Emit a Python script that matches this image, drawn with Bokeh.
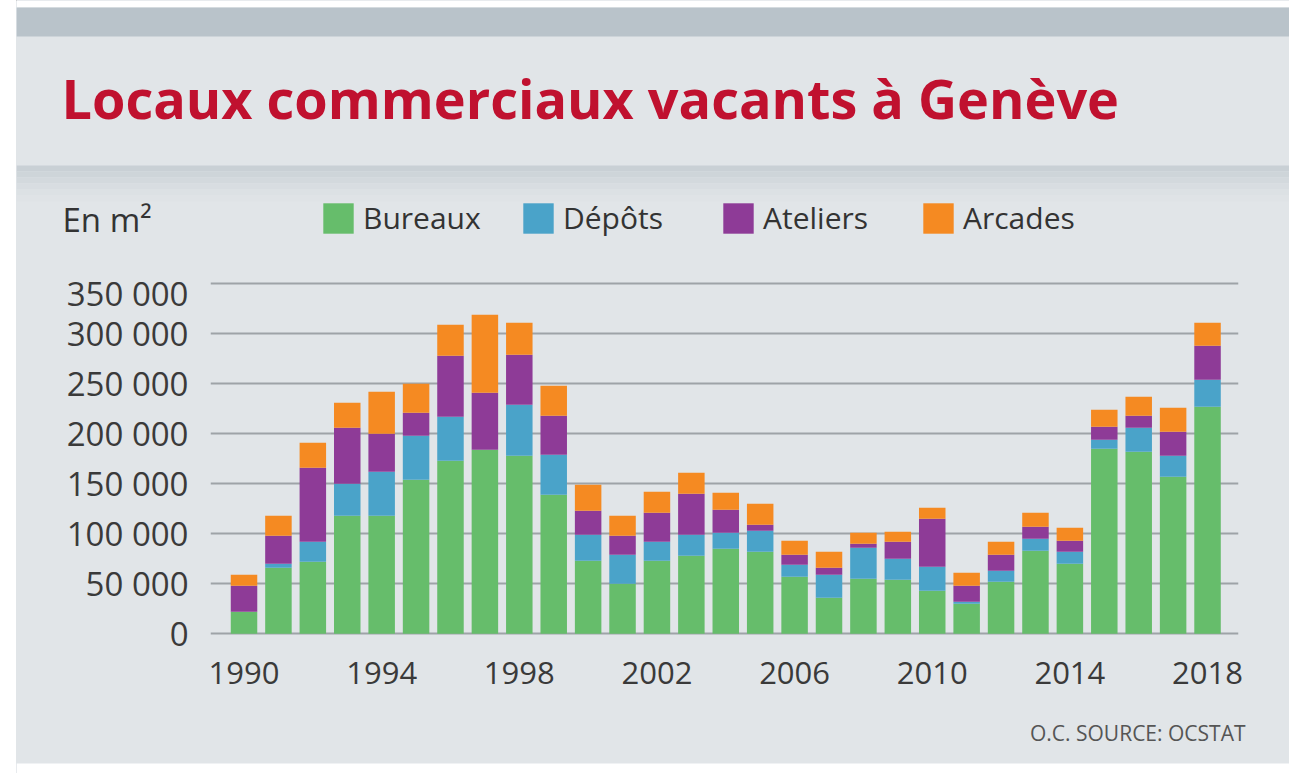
from bokeh.plotting import figure
from bokeh.layouts import column, row
from bokeh.models import (ColumnDataSource, Range1d, FixedTicker, Legend, LegendItem, Spacer)
from bokeh.core.properties import value
from bokeh.embed import file_html
from bokeh.resources import INLINE

# ---------------- data (m²) ----------------
years = list(range(1990, 2019))
bureaux = [22, 66, 72, 118, 118, 154, 173, 184, 178, 139, 73, 50, 73, 78, 85,
           82, 57, 36, 55, 54, 43, 30, 52, 83, 70, 185, 182, 157, 227]
depots = [0, 4, 20, 32, 44, 44, 44, 0, 51, 40, 26, 29, 19, 21, 16,
          21, 12, 23, 31, 21, 24, 2, 11, 12, 12, 9, 24, 21, 27]
ateliers = [26, 28, 74, 56, 38, 23, 61, 57, 50, 39, 24, 19, 29, 41, 23,
            6, 10, 7, 4, 17, 48, 16, 16, 12, 11, 13, 12, 24, 34]
arcades = [11, 20, 25, 25, 42, 29, 31, 78, 32, 30, 26, 20, 21, 21, 17,
           21, 14, 16, 11, 10, 11, 13, 13, 14, 13, 17, 19, 24, 23]
series_keys = ["bureaux", "depots", "ateliers", "arcades"]
series_labels = ["Bureaux", "Dépôts", "Ateliers", "Arcades"]
series_colors = ["#66bd6b", "#4aa3c9", "#8e3b97", "#f58a22"]
y_ticks = [0, 50000, 100000, 150000, 200000, 250000, 300000, 350000]
y_tick_labels = ["0", "50 000", "100 000", "150 000", "200 000", "250 000", "300 000", "350 000"]
x_ticks = [1990, 1994, 1998, 2002, 2006, 2010, 2014, 2018]

title_text = "Locaux commerciaux vacants à Genève"
unit_text = "En m²"
source_text = "O.C. SOURCE: OCSTAT"

src = ColumnDataSource(dict(
    year=years,
    bureaux=[v * 1000 for v in bureaux],
    depots=[v * 1000 for v in depots],
    ateliers=[v * 1000 for v in ateliers],
    arcades=[v * 1000 for v in arcades],
))

BG = "#e1e5e8"
TXT = "#3a3a3a"
FONT = "Open Sans"
W = 1273


def no_align(f):
    try:
        f.frame_align = False
    except Exception:
        pass


def blank_fig(h):
    f = figure(width=W, height=h, output_backend="svg", toolbar_location=None,
               x_range=Range1d(0, W), y_range=Range1d(h, 0),
               x_axis_location=None, y_axis_location=None,
               min_border=0, min_border_left=0, min_border_right=0,
               min_border_top=0, min_border_bottom=0)
    f.grid.visible = False
    f.background_fill_color = BG
    f.border_fill_color = BG
    f.outline_line_color = None
    no_align(f)
    return f


# ---------------- header ----------------
header = blank_fig(270)
header.quad(left=[0], right=[W], top=[0], bottom=[7], fill_color="white", line_color=None)
header.quad(left=[0], right=[W], top=[7], bottom=[36], fill_color="#b9c3ca", line_color=None)
shade = ["#c9d0d5", "#ced5d9", "#d3d9dd", "#d8dde1", "#dce1e4", "#dfe3e6"]
header.quad(left=[0] * 6, right=[W] * 6, top=[165 + 6 * i for i in range(6)],
            bottom=[171 + 6 * i for i in range(6)], fill_color=shade, line_color=None)
header.text(x=[45], y=[97], text=[title_text], text_font=value(FONT),
            text_font_style="bold", text_font_size="54px", text_color="#c0112f",
            text_baseline="alphabetic")
header.text(x=[46], y=[219], text=[unit_text], text_font=value(FONT),
            text_font_size="33px", text_color="#333333", text_baseline="alphabetic")

for i, (lab, col) in enumerate(zip(series_labels, series_colors)):
    # legend swatch renderer: one bar placed outside the visible range
    dummy = header.vbar(x=[-1000], top=[-1000], bottom=[-1001], width=1,
                        fill_color=col, line_color=None)
    leg = Legend(items=[LegendItem(label=lab, renderers=[dummy])],
                 location=(303 + 200 * i, 32), orientation="horizontal",
                 padding=0, margin=0, spacing=0, glyph_width=38, glyph_height=38,
                 label_height=38, label_standoff=6,
                 label_text_font=FONT, label_text_font_size="30px",
                 label_text_color="#333333", border_line_color=None,
                 background_fill_alpha=0)
    header.add_layout(leg)

# ---------------- main chart ----------------
p = figure(width=W, height=430, output_backend="svg", toolbar_location=None,
           x_range=Range1d(1989.026, 2018.9), y_range=Range1d(-8700, 363300),
           min_border_left=194, min_border_right=51, min_border_top=0,
           min_border_bottom=58)
p.background_fill_color = BG
p.border_fill_color = BG
p.outline_line_color = None
no_align(p)

p.vbar_stack(series_keys, x="year", width=0.77, source=src,
             fill_color=series_colors, line_color=None)

p.xgrid.visible = False
p.ygrid.ticker = FixedTicker(ticks=y_ticks)
p.ygrid.grid_line_color = "#9ea3a7"
p.ygrid.grid_line_width = 2

ya = p.yaxis[0]
ya.ticker = FixedTicker(ticks=y_ticks)
ya.major_label_overrides = {t: l for t, l in zip(y_ticks, y_tick_labels)}
ya.axis_line_color = None
ya.major_tick_line_color = None
ya.minor_tick_line_color = None
ya.major_tick_out = 0
ya.major_tick_in = 0
ya.minor_tick_out = 0
ya.major_label_standoff = 22
ya.major_label_text_font = FONT
ya.major_label_text_font_size = "33px"
ya.major_label_text_color = TXT

xa = p.xaxis[0]
xa.ticker = FixedTicker(ticks=x_ticks)
xa.axis_line_color = None
xa.major_tick_line_color = None
xa.minor_tick_line_color = None
xa.major_tick_out = 0
xa.major_tick_in = 0
xa.minor_tick_out = 0
xa.major_label_standoff = 19
xa.major_label_text_font = FONT
xa.major_label_text_font_size = "31px"
xa.major_label_text_color = TXT

# ---------------- footer ----------------
footer = blank_fig(73)
footer.quad(left=[0], right=[W], top=[63], bottom=[73], fill_color="white", line_color=None)
footer.text(x=[1229], y=[32], text=[source_text], text_font=value(FONT),
            text_font_size="21px", text_color="#555555", text_align="right",
            text_baseline="alphabetic")

body = column(header, p, footer, spacing=0, styles={"background-color": BG})
layout = row(Spacer(width=16, height=773), body, spacing=0)
open("out.html", "w").write(file_html(layout, INLINE))
